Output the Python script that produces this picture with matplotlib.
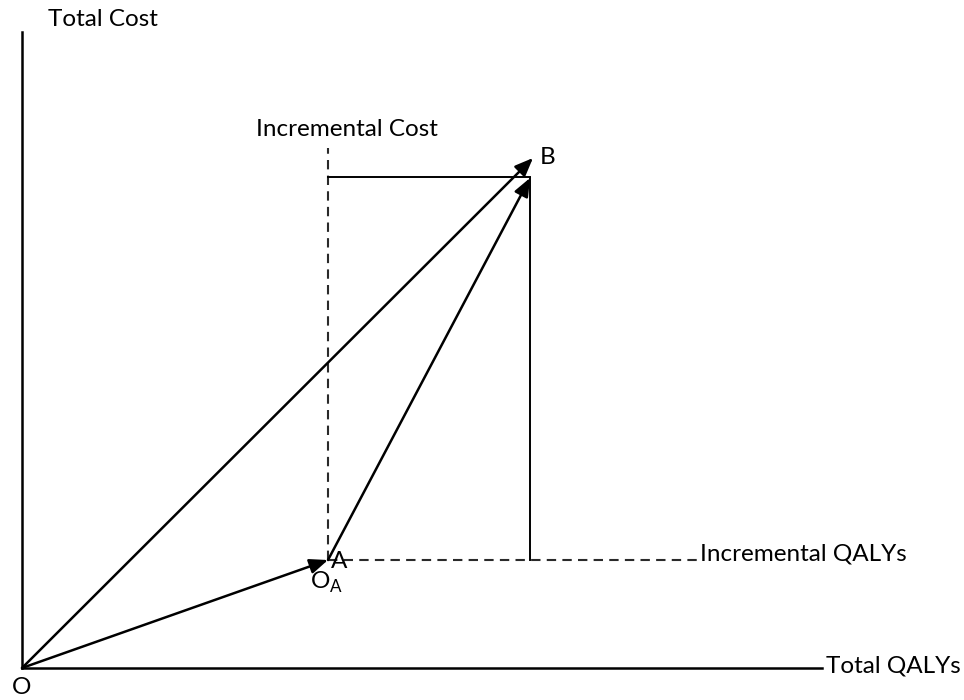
import matplotlib.pyplot as plt

plt.rcParams['font.family'] = ['Lato', 'DejaVu Sans']

# puntos del diagrama (origen en O)
O = (0, 0)
A = (306, 108)
B_tip_O = (511, 510)   # punta de la flecha O -> B
B_tip_A = (508, 490)   # punta de la flecha A -> B
inc_cost_top = 520     # tope de la linea punteada vertical
inc_qaly_end = 680     # fin de la linea punteada horizontal
x_max = 800
y_max = 636

fig = plt.figure(figsize=(9.64, 7), dpi=100)
ax = fig.add_axes([0, 0, 1, 1])
ax.set_xlim(-22, 942)
ax.set_ylim(-32, 668)
ax.axis('off')

# ejes
ax.plot([0, 0], [0, y_max], color='black', lw=1.8)
ax.plot([0, x_max], [0, 0], color='black', lw=1.8)

# lineas punteadas
ax.plot([A[0], A[0]], [A[1], inc_cost_top], color='#2a2a2a', lw=1.5, ls=(0, (4.5, 3)))
ax.plot([A[0], inc_qaly_end], [A[1], A[1]], color='#2a2a2a', lw=1.5, ls=(0, (4.5, 3)))

# lineas solidas
ax.plot([A[0], B_tip_A[0]], [B_tip_A[1] + 1, B_tip_A[1] + 1], color='black', lw=1.4)
ax.plot([B_tip_A[0], B_tip_A[0]], [A[1], B_tip_A[1]], color='black', lw=1.4)

# flechas
arrow = dict(arrowstyle='-|>,head_length=1.1,head_width=0.45', color='black', lw=1.8,
             shrinkA=0, shrinkB=0)
ax.annotate('', xy=B_tip_O, xytext=O, arrowprops=arrow)
ax.annotate('', xy=A, xytext=O, arrowprops=arrow)
ax.annotate('', xy=B_tip_A, xytext=A, arrowprops=arrow)

# textos
fs = 17.5
ax.text(26, 648, 'Total Cost', fontsize=fs, va='center', ha='left')
ax.text(234, 538, 'Incremental Cost', fontsize=fs, va='center', ha='left')
ax.text(518, 511, 'B', fontsize=fs, va='center', ha='left')
ax.text(309, 107, 'A', fontsize=fs, va='center', ha='left')
ax.text(288, 86, r'O$_{\mathregular{A}}$', fontsize=fs, va='center', ha='left')
ax.text(-10, -20, 'O', fontsize=fs, va='center', ha='left')
ax.text(678, 114, 'Incremental QALYs', fontsize=fs, va='center', ha='left')
ax.text(804, 2, 'Total QALYs', fontsize=fs, va='center', ha='left')

fig.savefig('out.png', dpi=100)
